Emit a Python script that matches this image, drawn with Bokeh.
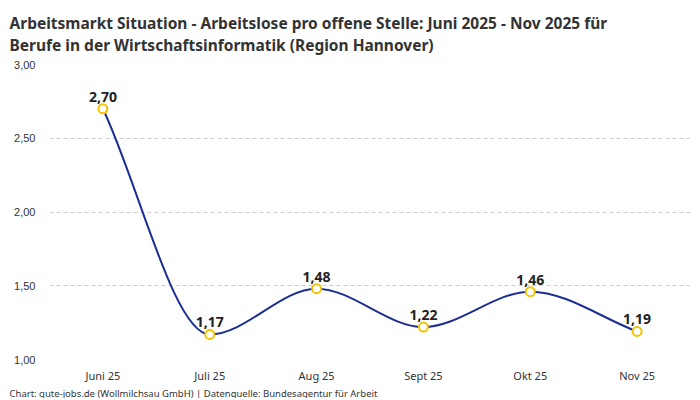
from bokeh.plotting import figure
from bokeh.models import ColumnDataSource, Title, FixedTicker
from bokeh.embed import file_html
from bokeh.resources import INLINE
from bokeh.core.properties import value

months = ["Juni 25", "Juli 25", "Aug 25", "Sept 25", "Okt 25", "Nov 25"]
werte = [2.70, 1.17, 1.48, 1.22, 1.46, 1.19]
y_ticks = [1.0, 1.5, 2.0, 2.5, 3.0]
y_tick_labels = ["1,00", "1,50", "2,00", "2,50", "3,00"]

LINE_COLOR = "#1c2e94"
MARKER_COLOR = "#f5c400"
FONT = "Noto Sans"


def monotone_controls(xs, ys):
    # monotone kubische Interpolation (wie Chart.js), nur fuer die Kurvenform
    n = len(xs)
    d = [(ys[i + 1] - ys[i]) / (xs[i + 1] - xs[i]) for i in range(n - 1)]
    m = [0.0] * n
    m[0] = d[0]
    m[-1] = d[-1]
    for i in range(1, n - 1):
        if d[i - 1] == 0 or d[i] == 0 or (d[i - 1] > 0) != (d[i] > 0):
            m[i] = 0.0
        else:
            m[i] = (d[i - 1] + d[i]) / 2
    for i in range(n - 1):
        if d[i] == 0:
            m[i] = m[i + 1] = 0.0
            continue
        a = m[i] / d[i]
        b = m[i + 1] / d[i]
        s = a * a + b * b
        if s <= 9:
            continue
        t = 3 / s ** 0.5
        m[i] = a * t * d[i]
        m[i + 1] = b * t * d[i]
    seg = dict(x0=[], y0=[], x1=[], y1=[], cx0=[], cy0=[], cx1=[], cy1=[])
    for i in range(n - 1):
        dx = (xs[i + 1] - xs[i]) / 3
        seg["x0"].append(xs[i])
        seg["y0"].append(ys[i])
        seg["x1"].append(xs[i + 1])
        seg["y1"].append(ys[i + 1])
        seg["cx0"].append(xs[i] + dx)
        seg["cy0"].append(ys[i] + dx * m[i])
        seg["cx1"].append(xs[i + 1] - dx)
        seg["cy1"].append(ys[i + 1] - dx * m[i + 1])
    return seg


xs = list(range(len(months)))
p = figure(width=690, height=398, x_range=(-0.5, len(months) - 0.5), y_range=(1.0, 3.0),
           output_backend="svg", toolbar_location=None,
           min_border_left=49, min_border_right=0, min_border_top=0, min_border_bottom=0)
p.outline_line_color = None

p.add_layout(Title(text="Arbeitsmarkt Situation - Arbeitslose pro offene Stelle: Juni 2025 - Nov 2025 für\n"
                        "Berufe in der Wirtschaftsinformatik (Region Hannover)",
                   text_font=FONT, text_font_size="15.5px", text_font_style="bold",
                   text_color="#333333", text_line_height=1.0, offset=-40, standoff=18), "above")

curve = ColumnDataSource(monotone_controls(xs, werte))
p.bezier(x0="x0", y0="y0", x1="x1", y1="y1", cx0="cx0", cy0="cy0", cx1="cx1", cy1="cy1",
         source=curve, line_color=LINE_COLOR, line_width=2)

src = ColumnDataSource(data=dict(x=xs, y=werte, label=[f"{v:.2f}".replace(".", ",") for v in werte]))
p.scatter(x="x", y="y", source=src, size=9, fill_color="white",
          line_color=MARKER_COLOR, line_width=2)
p.text(x="x", y="y", text="label", source=src, text_align="center", text_baseline="bottom",
       y_offset=-7, text_font=value(FONT), text_font_size="14px", text_font_style="bold",
       text_color="#222222")

p.xaxis.ticker = FixedTicker(ticks=xs)
p.xaxis.major_label_overrides = {i: m for i, m in enumerate(months)}
p.yaxis.ticker = FixedTicker(ticks=y_ticks)
p.yaxis.major_label_overrides = {t: l for t, l in zip(y_ticks, y_tick_labels)}
for ax in (p.xaxis, p.yaxis):
    ax.axis_line_color = None
    ax.major_tick_line_color = None
    ax.minor_tick_line_color = None
    ax.major_tick_out = 0
    ax.major_tick_in = 0
    ax.major_label_text_color = "#333333"
p.xaxis.major_label_text_font = FONT
p.xaxis.major_label_text_font_size = "11px"
p.xaxis.major_label_standoff = 8
p.yaxis.major_label_text_font = "Liberation Sans"
p.yaxis.major_label_text_font_size = "11px"
p.yaxis.major_label_standoff = 14

p.xgrid.grid_line_color = None
p.ygrid.grid_line_color = "#cccccc"
p.ygrid.grid_line_dash = "4 3"

p.add_layout(Title(text="Chart: gute-jobs.de (Wollmilchsau GmbH) | Datenquelle: Bundesagentur für Arbeit",
                   text_font=FONT, text_font_size="9.5px", text_font_style="normal",
                   text_line_height=1.0, text_color="#333333", offset=-40, standoff=-2), "below")

open("out.html", "w").write(file_html(p, INLINE))
